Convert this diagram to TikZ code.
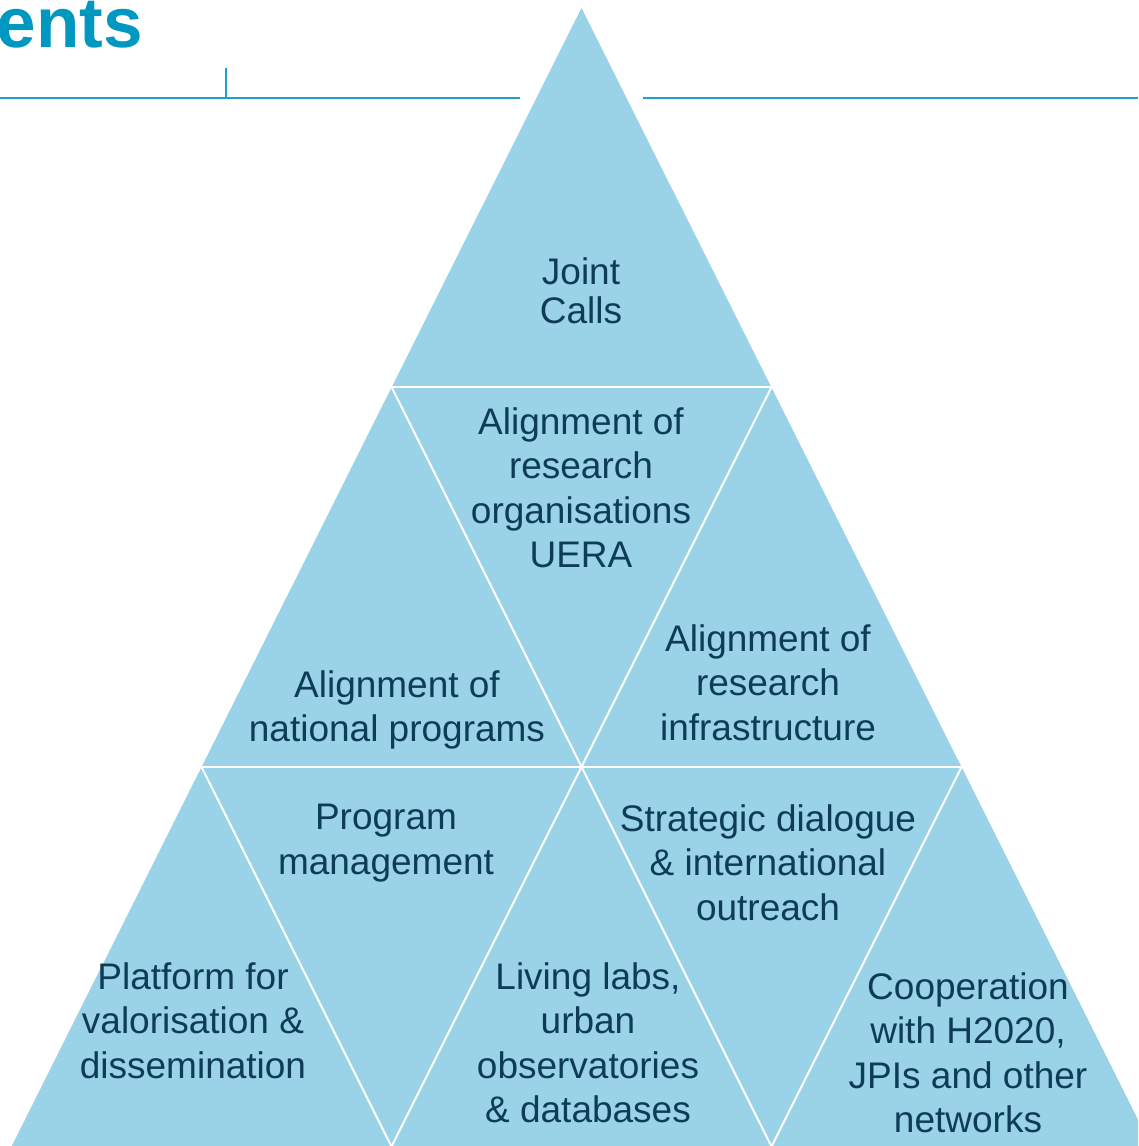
\documentclass[tikz,border=0pt]{standalone}
\usepackage{fontspec}
\usetikzlibrary{calc}
\setmainfont{Liberation Sans}
\definecolor{tri}{RGB}{154,211,231}
\definecolor{txt}{RGB}{14,60,88}
\definecolor{ttl}{RGB}{0,152,192}
\definecolor{rule}{RGB}{30,160,200}
\begin{document}
\begin{tikzpicture}[x=1pt,y=-1pt,
  sepline/.style={draw=white,line width=2pt},
  lbl/.style={text=txt,inner sep=0pt,align=center,anchor=north,
    font=\fontsize{37}{44.5}\selectfont},
  rulel/.style={draw=rule,line width=2pt}]
\useasboundingbox (0,0) rectangle (1138,1146);
\clip (0,0) rectangle (1138,1146);
% title and rules
\node[anchor=base east,inner sep=0pt,text=ttl,font=\fontsize{71}{84}\selectfont\bfseries] (title) at (143,47.5) {ents};
\coordinate (r1) at (0,98);
\coordinate (r2) at (520,98);
\coordinate (r3) at (643,98);
\coordinate (r4) at (1138,98);
\coordinate (t1) at (226,68);
\coordinate (t2) at (226,98);
\draw[rulel] (r1) -- (r2);
\draw[rulel] (r3) -- (r4);
\draw[rulel] (t1) -- (t2);
% triangle grid
\coordinate (a) at (581.5,8);
\coordinate (b1) at (391.5,387);
\coordinate (b2) at (771.5,387);
\coordinate (c1) at (201.5,767);
\coordinate (c2) at (581.5,767);
\coordinate (c3) at (961.5,767);
\coordinate (d1) at (11.5,1146.5);
\coordinate (d2) at (391.5,1146.5);
\coordinate (d3) at (771.5,1146.5);
\coordinate (d4) at (1151.5,1146.5);
\coordinate (e1) at ($(a)!1.01!(d1)$);
\coordinate (e4) at ($(a)!1.01!(d4)$);
\fill[tri] (a) -- (e1) -- (e4) -- cycle;
\draw[sepline] (b1) -- (b2);
\draw[sepline] (c1) -- (c3);
\draw[sepline] (b1) -- ($(b1)!1.01!(d3)$);
\draw[sepline] (b2) -- ($(b2)!1.01!(d2)$);
\draw[sepline] (c1) -- ($(c1)!1.02!(d2)$);
\draw[sepline] (c3) -- ($(c3)!1.02!(d3)$);
% labels
\node[lbl,font=\fontsize{37}{39.5}\selectfont] (joint) at (581,257) {Joint\\Calls};
\node[lbl] (uera) at (581,407) {Alignment of\\research\\organisations\\UERA};
\node[lbl] (natl) at (397,670) {Alignment of\\national programs};
\node[lbl] (infra) at (768,624) {Alignment of\\research\\infrastructure};
\node[lbl] (prog) at (386,804) {Program\\management};
\node[lbl] (strat) at (768,804) {Strategic dialogue\\\& international\\outreach};
\node[lbl] (plat) at (193,962) {Platform for\\valorisation \&\\dissemination};
\node[lbl] (living) at (588,962) {Living labs,\\urban\\observatories\\\& databases};
\node[lbl] (coop) at (968,972) {Cooperation\\with H2020,\\JPIs and other\\networks};
\end{tikzpicture}
\end{document}
